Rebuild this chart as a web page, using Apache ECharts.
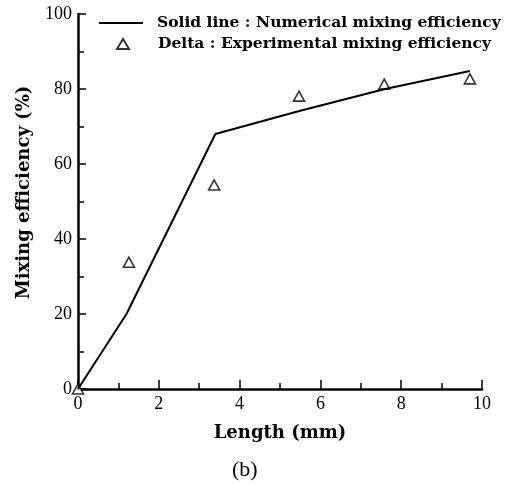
<!DOCTYPE html>
<html>
<head>
    <meta charset="utf-8" />
    <title>Mixing efficiency</title>
    <script src="https://cdn.jsdelivr.net/npm/echarts@6/dist/echarts.min.js"></script>
    <style>
        html, body { margin: 0; padding: 0; background: #fff; }
        #div_echart { width: 507px; height: 485px; }
    </style>
</head>
<body>
    <div id="div_echart"></div>
    <script>
        var numName = 'Solid line : Numerical mixing efficiency';
        var expName = 'Delta : Experimental mixing efficiency';

        // numerical curve (length mm, efficiency %)
        var numLength = [0, 1.2, 3.4, 5.5, 7.6, 9.7];
        var numEff = [0, 20, 68, 74.2, 80, 84.8];

        // experimental points
        var expLength = [0, 1.26, 3.37, 5.47, 7.58, 9.7];
        var expEff = [0, 33.8, 54.4, 78.1, 81.3, 82.7];

        var xTicks = [0, 2, 4, 6, 8, 10];
        var yTicks = [0, 20, 40, 60, 80, 100];

        function pairs(xs, ys) {
            var out = [];
            for (var i = 0; i < xs.length; i++) out.push([xs[i], ys[i]]);
            return out;
        }

        var font = 'Liberation Serif';
        var boldFont = 'DejaVu Serif';
        var chart = echarts.init(document.getElementById('div_echart'));
        var option = {
            animation: false,
            backgroundColor: '#fff',
            title: {
                text: '(b)',
                left: 232,
                top: 459,
                padding: 0,
                textStyle: { fontFamily: font, fontWeight: 'normal', fontSize: 22, color: '#000' }
            },
            legend: [
                {
                    data: [{ name: numName, icon: 'rect' }],
                    left: 99,
                    top: 15,
                    padding: 0,
                    itemWidth: 44,
                    itemHeight: 2,
                    textStyle: { fontFamily: boldFont, fontWeight: 'bold', fontSize: 15.5, color: '#000', padding: [2, 0, 0, 9] }
                },
                {
                    data: [expName],
                    left: 116,
                    top: 36,
                    padding: 0,
                    itemWidth: 12,
                    itemHeight: 10,
                    textStyle: { fontFamily: boldFont, fontWeight: 'bold', fontSize: 15.5, color: '#000', padding: [5, 0, 0, 24] }
                }
            ],
            grid: { left: 78, right: 25, top: 14, bottom: 96, containLabel: false },
            xAxis: {
                type: 'value',
                min: 0,
                max: 10,
                interval: 2,
                name: 'Length (mm)',
                nameLocation: 'middle',
                nameGap: 35,
                nameTextStyle: { fontFamily: boldFont, fontWeight: 'bold', fontSize: 18, color: '#000' },
                axisLine: { lineStyle: { color: '#000', width: 2.5 } },
                axisTick: { inside: true, length: 9, lineStyle: { color: '#000', width: 1.5 } },
                minorTick: { show: true, splitNumber: 2, length: 6, lineStyle: { color: '#000', width: 1.5 } },
                axisLabel: {
                    margin: 6, fontFamily: font, fontSize: 18, color: '#000',
                    formatter: function (v) { return xTicks.indexOf(v) >= 0 ? String(v) : ''; }
                },
                splitLine: { show: false }
            },
            yAxis: {
                type: 'value',
                min: 0,
                max: 100,
                interval: 20,
                name: 'Mixing efficiency (%)',
                nameLocation: 'middle',
                nameGap: 45,
                nameTextStyle: { fontFamily: boldFont, fontWeight: 'bold', fontSize: 18, color: '#000', padding: [0, 0, 0, 18] },
                axisLine: { lineStyle: { color: '#000', width: 2.5 } },
                axisTick: { inside: true, length: 8, lineStyle: { color: '#000', width: 1.5 } },
                minorTick: { show: true, splitNumber: 2, length: 6, lineStyle: { color: '#000', width: 1.5 } },
                axisLabel: {
                    margin: 6, fontFamily: font, fontSize: 18, color: '#000',
                    formatter: function (v) { return yTicks.indexOf(v) >= 0 ? String(v) : ''; }
                },
                splitLine: { show: false }
            },
            series: [
                {
                    name: numName,
                    type: 'line',
                    symbol: 'none',
                    data: pairs(numLength, numEff),
                    lineStyle: { color: '#000', width: 2 },
                    itemStyle: { color: '#000' }
                },
                {
                    name: expName,
                    type: 'scatter',
                    symbol: 'triangle',
                    symbolSize: [11, 10],
                    data: pairs(expLength, expEff),
                    itemStyle: { color: '#fff', borderColor: '#000', borderWidth: 1.6 }
                }
            ]
        };
        chart.setOption(option);
    </script>
</body>
</html>
